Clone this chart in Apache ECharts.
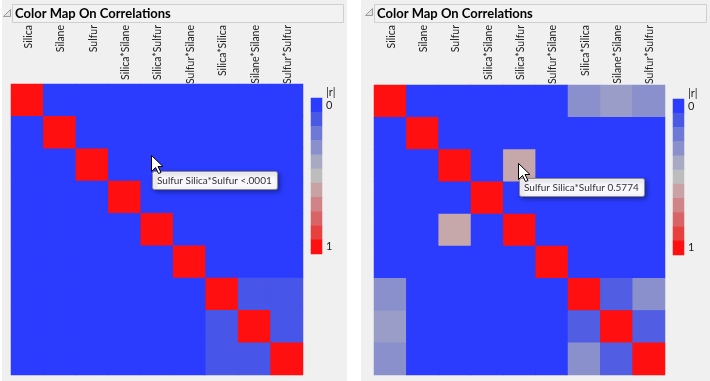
<!DOCTYPE html>
<html>
<head>
<meta charset="utf-8">
<script src="https://cdn.jsdelivr.net/npm/echarts@6/dist/echarts.min.js"></script>
<style>
html,body{margin:0;padding:0;background:#ffffff;}
#c{width:710px;height:381px;}
</style>
</head>
<body>
<div id="c"></div>
<script>
var terms = ['Silica','Silane','Sulfur','Silica*Silane','Silica*Sulfur','Sulfur*Silane','Silica*Silica','Silane*Silane','Sulfur*Sulfur'];
// |r| values, left panel (centered terms)
var leftR = [
 [1,0,0,0,0,0,0,0,0],
 [0,1,0,0,0,0,0,0,0],
 [0,0,1,0,0,0,0,0,0],
 [0,0,0,1,0,0,0,0,0],
 [0,0,0,0,1,0,0,0,0],
 [0,0,0,0,0,1,0,0,0],
 [0,0,0,0,0,0,1,0.09,0.09],
 [0,0,0,0,0,0,0.09,1,0.09],
 [0,0,0,0,0,0,0.09,0.09,1]
];
// |r| values, right panel (uncentered terms)
var rightR = [
 [1,0,0,0,0,0,0.3,0.35,0.3],
 [0,1,0,0,0,0,0,0,0],
 [0,0,1,0,0.5774,0,0,0,0],
 [0,0,0,1,0,0,0,0,0],
 [0,0,0.5774,0,1,0,0,0,0],
 [0,0,0,0,0,1,0,0,0],
 [0.3,0,0,0,0,0,1,0.12,0.3],
 [0.35,0,0,0,0,0,0.12,1,0.12],
 [0.3,0,0,0,0,0,0.3,0.12,1]
];
var legendLevels = ['0','0.1','0.2','0.3','0.4','0.5','0.6','0.7','0.8','0.9','1'];
var legendValues = [0,0.1,0.2,0.3,0.4,0.5,0.6,0.7,0.8,0.9,1];
var legendColors = ['#2b3cff','#4a58e6','#6e78d6','#8a90cc','#a8aac4','#bdbdbd','#c8a2a5','#d18487','#d96466','#e8403f','#ff0f0f'];
var titleText = 'Color Map On Correlations';
var tipLeft = 'Sulfur Silica*Sulfur <.0001';
var tipRight = 'Sulfur Silica*Sulfur 0.5774';

function toData(m){
  var d=[];
  for(var r=0;r<m.length;r++) for(var c=0;c<m[r].length;c++) d.push([c,r,m[r][c]]);
  return d;
}
function legData(){
  var d=[];
  for(var i=0;i<legendValues.length;i++) d.push([0,i,legendValues[i]]);
  return d;
}
var FONT = 'Lato';
function xAx(gi){
  return {type:'category',gridIndex:gi,data:terms,show:false};
}
function labelAx(gi){
  return {type:'category',gridIndex:gi,data:terms,position:'bottom',
    axisLine:{show:false},axisTick:{show:false},splitLine:{show:false},
    axisLabel:{interval:0,rotate:90,margin:0,fontFamily:FONT,fontSize:10.5,color:'#222'}};
}
function yAx(gi){
  return {type:'category',gridIndex:gi,data:terms,inverse:true,show:false};
}
function hidY(gi){return {type:'value',gridIndex:gi,show:false};}
function legX(gi){return {type:'category',gridIndex:gi,data:['r'],show:false};}
function legY(gi){
  return {type:'category',gridIndex:gi,data:legendLevels,inverse:true,position:'right',
    axisLine:{show:false},axisTick:{show:false},splitLine:{show:false},
    axisLabel:{interval:0,margin:4,fontFamily:FONT,fontSize:11,color:'#222',
      formatter:function(v,i){return (i===0||i===legendLevels.length-1)?v:'';}}};
}
function cursor(x,y){
  var p=[[0,0],[0,16],[4,12],[7,18],[9.5,17],[6.5,11],[11.5,11]];
  return {type:'polygon',x:x,y:y,z:100,shape:{points:p},style:{fill:'#fff',stroke:'#000',lineWidth:1}};
}
var ctx = document.createElement('canvas').getContext('2d');
var TIPFONT = '10px Lato';
ctx.font = TIPFONT;
function tip(x,y,txt){
  var w = Math.round(ctx.measureText(txt).width) + 10;
  return [
    {type:'rect',z:90,shape:{x:x+0.5,y:y+0.5,width:w,height:18,r:2},
     style:{fill:'#f8f8fc',stroke:'#8a8a8a',lineWidth:1,shadowBlur:4,shadowOffsetX:2,shadowOffsetY:2,shadowColor:'rgba(0,0,0,0.35)'}},
    {type:'text',z:91,x:x+5,y:y+10,style:{text:txt,fill:'#333',font:TIPFONT,verticalAlign:'middle'}}
  ];
}
function disclosure(x,y){
  return {type:'polygon',x:x,y:y,z:10,shape:{points:[[0,7],[7,0],[7,7]]},style:{fill:'#e4e4e4',stroke:'#9a9a9a',lineWidth:1}};
}
function grid(l,t,w,h,bg){
  var g = {left:l,top:t,width:w,height:h,outerBoundsMode:'none',containLabel:false};
  if(bg){g.show=true;g.backgroundColor=bg;g.borderWidth=0;}
  return g;
}
var chart = echarts.init(document.getElementById('c'),null,{renderer:'canvas'});
var graphics = [
    {type:'rect',z:-10,silent:true,shape:{x:2,y:0,width:345,height:381},style:{fill:'#f0f0f0'}},
    {type:'rect',z:-10,silent:true,shape:{x:361,y:0,width:349,height:381},style:{fill:'#f0f0f0'}},
    {type:'rect',z:-5,shape:{x:12.5,y:4.5,width:331,height:18},style:{fill:'#f2f2f2',stroke:'#cfcfcf',lineWidth:1}},
    {type:'rect',z:-5,shape:{x:374.5,y:4.5,width:332,height:18},style:{fill:'#f2f2f2',stroke:'#cfcfcf',lineWidth:1}},
    disclosure(3.5,9.5),
    disclosure(365.5,8.5)
  ].concat(tip(152,171,tipLeft)).concat(tip(519,178,tipRight))
   .concat([cursor(151.5,155.5),cursor(518.5,163.5)]);
chart.setOption({
  animation:false,
  backgroundColor:'#ffffff',
  title:[
    {text:titleText,left:15,top:4,padding:0,textStyle:{fontFamily:FONT,fontWeight:'bold',fontSize:13,color:'#000',lineHeight:19}},
    {text:titleText,left:377,top:4,padding:0,textStyle:{fontFamily:FONT,fontWeight:'bold',fontSize:13,color:'#000',lineHeight:19}},
    {text:'|r|',left:326,top:87,padding:0,textStyle:{fontFamily:FONT,fontWeight:'normal',fontSize:11,color:'#222'}},
    {text:'|r|',left:688,top:88,padding:0,textStyle:{fontFamily:FONT,fontWeight:'normal',fontSize:11,color:'#222'}}
  ],
  grid:[
    grid(11,84,292,291,'#2b3cff'),
    grid(374,85,291,290,'#2b3cff'),
    grid(311,98,11,156),
    grid(673,99,11,156),
    grid(12,20,292,5),
    grid(375,20,291,5)
  ],
  xAxis:[xAx(0),xAx(1),legX(2),legX(3),labelAx(4),labelAx(5)],
  yAxis:[yAx(0),yAx(1),legY(2),legY(3),hidY(4),hidY(5)],
  visualMap:{type:'continuous',show:false,min:0,max:1,dimension:2,seriesIndex:[0,1,2,3],
    inRange:{color:legendColors}},
  series:[
    {type:'heatmap',xAxisIndex:0,yAxisIndex:0,data:toData(leftR),itemStyle:{borderWidth:0}},
    {type:'heatmap',xAxisIndex:1,yAxisIndex:1,data:toData(rightR),itemStyle:{borderWidth:0}},
    {type:'heatmap',xAxisIndex:2,yAxisIndex:2,data:legData()},
    {type:'heatmap',xAxisIndex:3,yAxisIndex:3,data:legData()}
  ],
  graphic:graphics
});
</script>
</body>
</html>
